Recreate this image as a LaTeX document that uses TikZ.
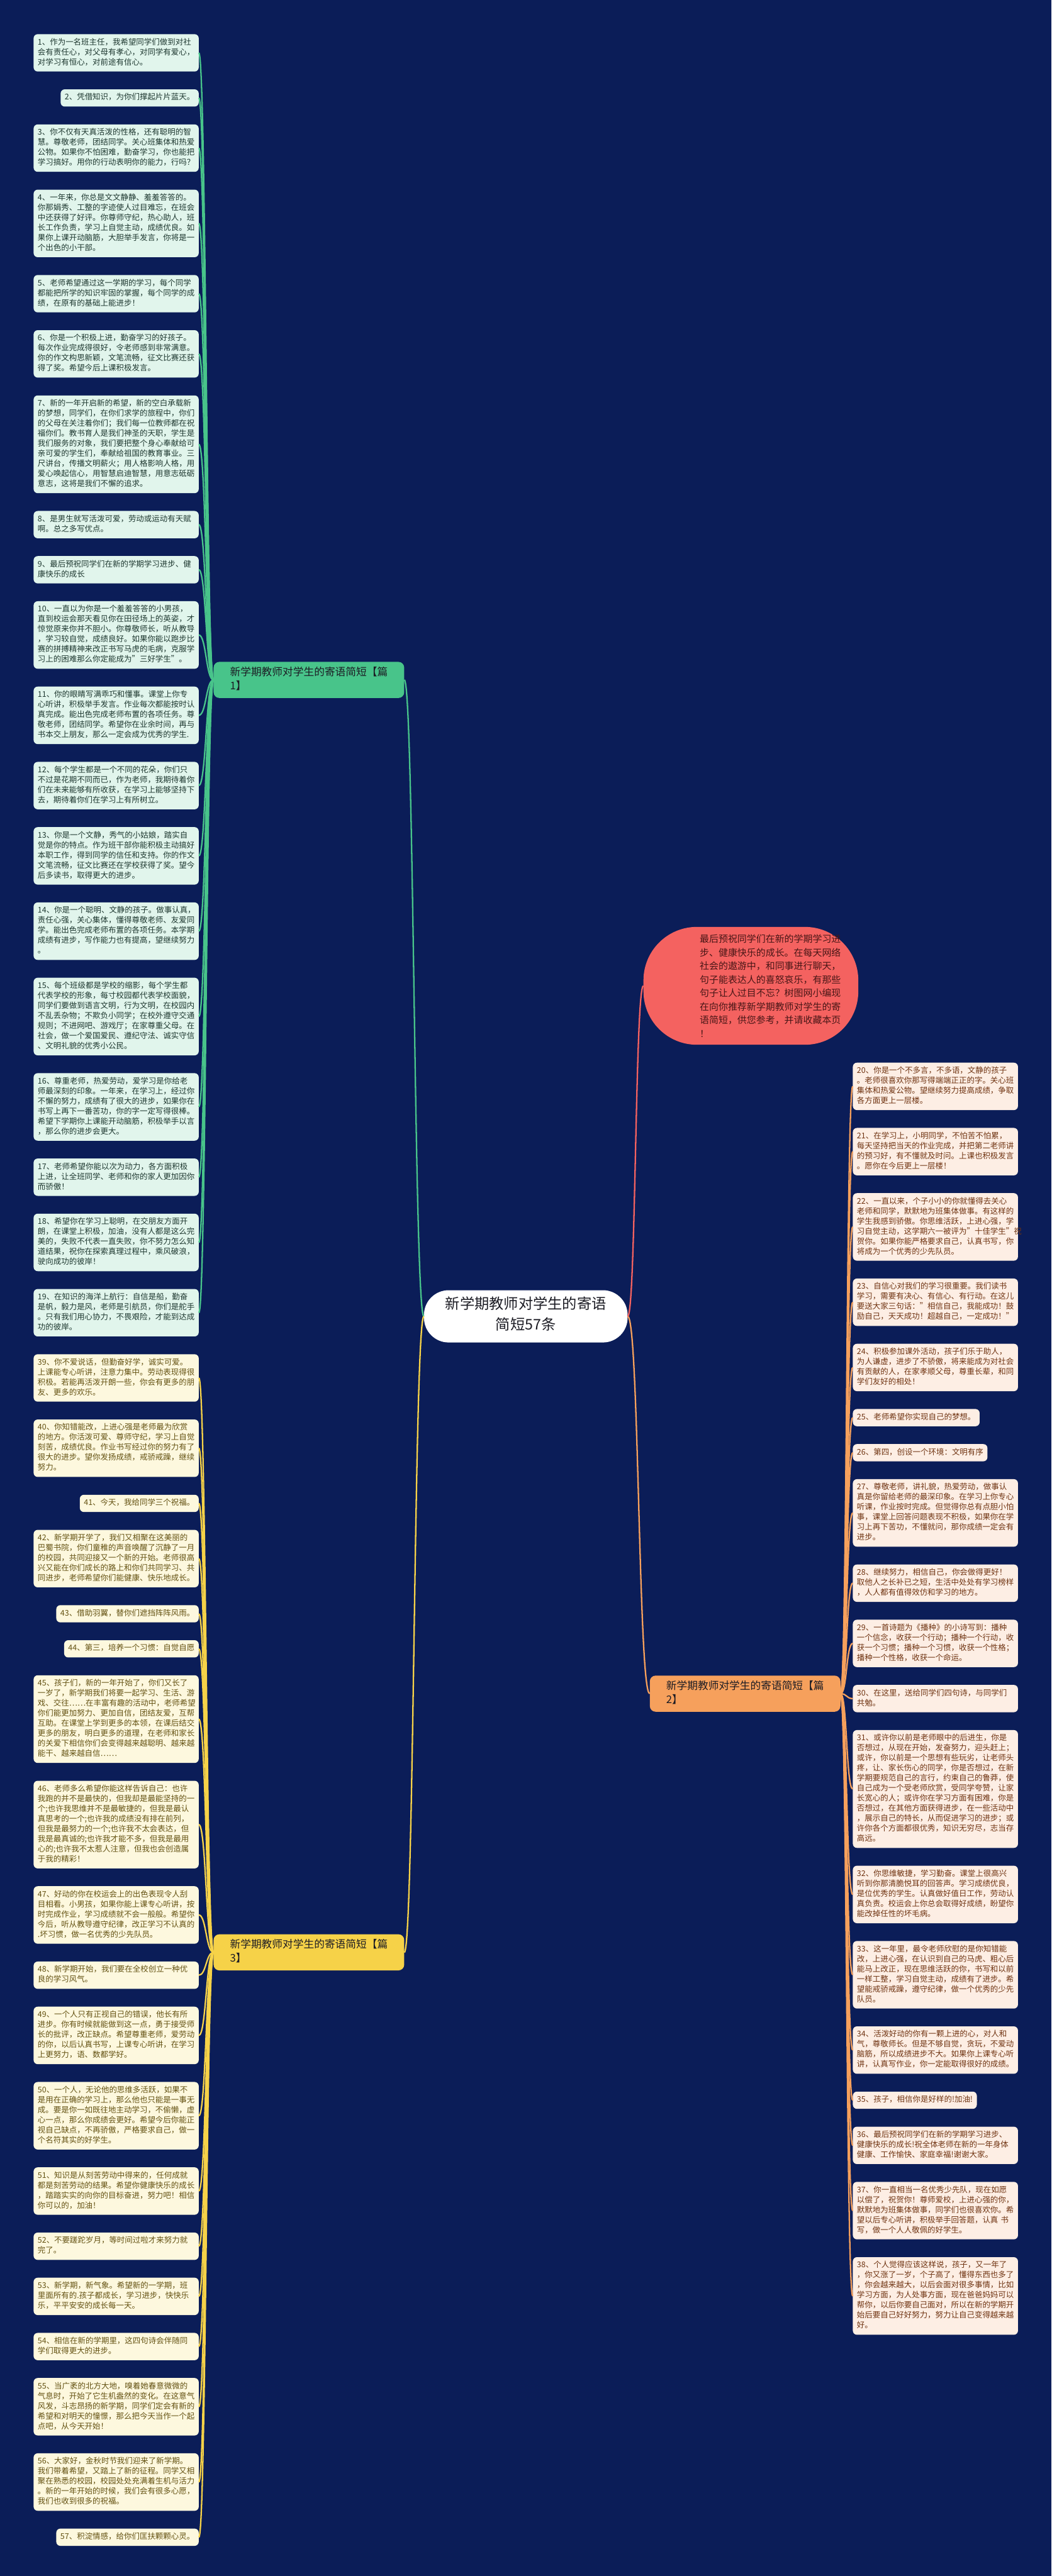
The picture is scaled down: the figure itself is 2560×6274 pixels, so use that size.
\documentclass[tikz,border=0pt]{standalone}
\usepackage{fontspec}
\setmainfont{Noto Sans CJK SC}
\usetikzlibrary{positioning}

\definecolor{navybg}{RGB}{11,29,88}
\definecolor{greenline}{RGB}{72,196,138}
\definecolor{greenfill}{RGB}{225,245,236}
\definecolor{greentext}{RGB}{30,56,48}
\definecolor{orangeline}{RGB}{246,160,92}
\definecolor{orangefill}{RGB}{253,238,228}
\definecolor{orangetext}{RGB}{112,52,18}
\definecolor{yellowline}{RGB}{246,210,72}
\definecolor{yellowfill}{RGB}{253,248,222}
\definecolor{yellowtext}{RGB}{100,82,18}
\definecolor{pinkfill}{RGB}{244,98,96}
\definecolor{pinktext}{RGB}{72,22,22}
\definecolor{roottext}{RGB}{28,28,36}

\tikzset{
leaf/.style={rounded corners=10pt, inner xsep=10pt, inner ysep=8.75pt, align=left,
  font=\fontsize{19.1}{24.5}\selectfont,
  execute at begin node=\strut, execute at end node=\strut}, % every line is 24.5 high
gbox/.style={leaf, fill=greenfill, text=greentext},
obox/.style={leaf, fill=orangefill, text=orangetext},
ybox/.style={leaf, fill=yellowfill, text=yellowtext},
wide/.style={text width=382pt}, % the long messages
lstack/.style={below=43pt of #1.south east, anchor=north east}, % left column, right aligned
rstack/.style={below=43pt of #1.south west, anchor=north west}, % right column, left aligned
branch/.style={rounded corners=14pt, inner xsep=40pt, inner ysep=10pt, align=left,
  text width=384pt, text=roottext, font=\fontsize{25.6}{34}\selectfont,
  execute at begin node=\strut, execute at end node=\strut},
root/.style={fill=white, rounded corners=60pt, inner xsep=52pt, inner ysep=16pt,
  align=center, text=roottext, font=\fontsize{35.6}{50}\selectfont,
  execute at begin node=\strut, execute at end node=\strut},
gwire/.style={draw=greenline, line width=3.5pt},
owire/.style={draw=orangeline, line width=3.5pt},
ywire/.style={draw=yellowline, line width=3.5pt},
pwire/.style={draw=pinkfill, line width=3.5pt},
}

\begin{document}
\begin{tikzpicture}[x=1pt, y=1pt]
\fill[navybg] (0,0) rectangle (2560,-6274);

% root, intro and the three branches
\node[root] (root) at (1280,-3206) {新学期教师对学生的寄语\\简短57条};
\node[fill=pinkfill, rounded corners=130pt, minimum width=523pt, minimum height=287pt] (intro) at (1828,-2401) {};
\node[right=137pt of intro.west, anchor=west, inner sep=0pt, text width=348pt, align=left,
  text=pinktext, font=\fontsize{22.9}{32.9}\selectfont] (introtext)
  {最后预祝同学们在新的学期学习进\\步、健康快乐的成长。在每天网络\\社会的遨游中，和同事进行聊天，\\句子能表达人的喜怒哀乐，有那些\\句子让人过目不忘？树图网小编现\\在向你推荐新学期教师对学生的寄\\语简短，供您参考，并请收藏本页\\！};
\node[branch, fill=greenline] (b1) at (752,-1656) {新学期教师对学生的寄语简短【篇\\1】};
\node[branch, fill=orangeline] (b2) at (1814,-4125) {新学期教师对学生的寄语简短【篇\\2】};
\node[branch, fill=yellowline] (b3) at (752,-4755) {新学期教师对学生的寄语简短【篇\\3】};

% left column: 篇1
\node[gbox, wide, anchor=north east] (g1) at (484,-83) {1、作为一名班主任，我希望同学们做到对社\\会有责任心，对父母有孝心，对同学有爱心，\\对学习有恒心，对前途有信心。};
\node[gbox, lstack=g1] (g2) {2、凭借知识，为你们撑起片片蓝天。};
\node[gbox, wide, lstack=g2] (g3) {3、你不仅有天真活泼的性格，还有聪明的智\\慧。尊敬老师，团结同学。关心班集体和热爱\\公物。如果你不怕困难，勤奋学习，你也能把\\学习搞好。用你的行动表明你的能力，行吗？};
\node[gbox, wide, lstack=g3] (g4) {4、一年来，你总是文文静静、羞羞答答的。\\你那娟秀、工整的字迹使人过目难忘，在班会\\中还获得了好评。你尊师守纪，热心助人，班\\长工作负责，学习上自觉主动，成绩优良。如\\果你上课开动脑筋，大胆举手发言，你将是一\\个出色的小干部。};
\node[gbox, wide, lstack=g4] (g5) {5、老师希望通过这一学期的学习，每个同学\\都能把所学的知识牢固的掌握，每个同学的成\\绩，在原有的基础上能进步！};
\node[gbox, wide, lstack=g5] (g6) {6、你是一个积极上进，勤奋学习的好孩子。\\每次作业完成得很好，令老师感到非常满意。\\你的作文构思新颖，文笔流畅，征文比赛还获\\得了奖。希望今后上课积极发言。};
\node[gbox, wide, lstack=g6] (g7) {7、新的一年开启新的希望，新的空白承载新\\的梦想，同学们，在你们求学的旅程中，你们\\的父母在关注着你们；我们每一位教师都在祝\\福你们。教书育人是我们神圣的天职，学生是\\我们服务的对象，我们要把整个身心奉献给可\\亲可爱的学生们，奉献给祖国的教育事业。三\\尺讲台，传播文明薪火；用人格影响人格，用\\爱心唤起信心，用智慧启迪智慧，用意志砥砺\\意志，这将是我们不懈的追求。};
\node[gbox, wide, lstack=g7] (g8) {8、是男生就写活泼可爱，劳动或运动有天赋\\啊。总之多写优点。};
\node[gbox, wide, lstack=g8] (g9) {9、最后预祝同学们在新的学期学习进步、健\\康快乐的成长};
\node[gbox, wide, lstack=g9] (g10) {10、一直以为你是一个羞羞答答的小男孩，\\直到校运会那天看见你在田径场上的英姿，才\\惊觉原来你并不胆小。你尊敬师长，听从教导\\，学习较自觉，成绩良好。如果你能以跑步比\\赛的拼搏精神来改正书写马虎的毛病，克服学\\习上的困难那么你定能成为"三好学生"。};
\node[gbox, wide, lstack=g10] (g11) {11、你的眼睛写满乖巧和懂事。课堂上你专\\心听讲，积极举手发言。作业每次都能按时认\\真完成。能出色完成老师布置的各项任务。尊\\敬老师，团结同学。希望你在业余时间，再与\\书本交上朋友，那么一定会成为优秀的学生.};
\node[gbox, wide, lstack=g11] (g12) {12、每个学生都是一个不同的花朵，你们只\\不过是花期不同而已，作为老师，我期待着你\\们在未来能够有所收获，在学习上能够坚持下\\去，期待着你们在学习上有所树立。};
\node[gbox, wide, lstack=g12] (g13) {13、你是一个文静，秀气的小姑娘，踏实自\\觉是你的特点。作为班干部你能积极主动搞好\\本职工作，得到同学的信任和支持。你的作文\\文笔流畅，征文比赛还在学校获得了奖。望今\\后多读书，取得更大的进步。};
\node[gbox, wide, lstack=g13] (g14) {14、你是一个聪明、文静的孩子。做事认真，\\责任心强，关心集体，懂得尊敬老师、友爱同\\学。能出色完成老师布置的各项任务。本学期\\成绩有进步，写作能力也有提高，望继续努力\\。};
\node[gbox, wide, lstack=g14] (g15) {15、每个班级都是学校的缩影，每个学生都\\代表学校的形象，每寸校园都代表学校面貌，\\同学们要做到语言文明，行为文明，在校园内\\不乱丢杂物；不欺负小同学；在校外遵守交通\\规则；不进网吧、游戏厅；在家尊重父母。在\\社会，做一个爱国爱民、遵纪守法、诚实守信\\、文明礼貌的优秀小公民。};
\node[gbox, wide, lstack=g15] (g16) {16、尊重老师，热爱劳动，爱学习是你给老\\师最深刻的印象。一年来，在学习上，经过你\\不懈的努力，成绩有了很大的进步，如果你在\\书写上再下一番苦功，你的字一定写得很棒。\\希望下学期你上课能开动脑筋，积极举手以言\\，那么你的进步会更大。};
\node[gbox, wide, lstack=g16] (g17) {17、老师希望你能以次为动力，各方面积极\\上进，让全班同学、老师和你的家人更加因你\\而骄傲！};
\node[gbox, wide, lstack=g17] (g18) {18、希望你在学习上聪明，在交朋友方面开\\朗，在课堂上积极，加油，没有人都是这么完\\美的，失败不代表一直失败，你不努力怎么知\\道结果，祝你在探索真理过程中，乘风破浪，\\驶向成功的彼岸！};
\node[gbox, wide, lstack=g18] (g19) {19、在知识的海洋上航行：自信是船，勤奋\\是帆，毅力是风，老师是引航员，你们是舵手\\。只有我们用心协力，不畏艰险，才能到达成\\功的彼岸。};

% left column: 篇3
\node[ybox, wide, lstack=g19] (y39) {39、你不爱说话，但勤奋好学，诚实可爱。\\上课能专心听讲，注意力集中。劳动表现得很\\积极。若能再活泼开朗一些，你会有更多的朋\\友、更多的欢乐。};
\node[ybox, wide, lstack=y39] (y40) {40、你知错能改，上进心强是老师最为欣赏\\的地方。你活泼可爱、尊师守纪，学习上自觉\\刻苦，成绩优良。作业书写经过你的努力有了\\很大的进步。望你发扬成绩，戒骄戒躁，继续\\努力。};
\node[ybox, lstack=y40] (y41) {41、今天，我给同学三个祝福。};
\node[ybox, wide, lstack=y41] (y42) {42、新学期开学了，我们又相聚在这美丽的\\巴蜀书院，你们童稚的声音唤醒了沉静了一月\\的校园，共同迎接又一个新的开始。老师很高\\兴又能在你们成长的路上和你们共同学习、共\\同进步，老师希望你们能健康、快乐地成长。};
\node[ybox, lstack=y42] (y43) {43、借助羽翼，替你们遮挡阵阵风雨。};
\node[ybox, lstack=y43] (y44) {44、第三，培养一个习惯：自觉自愿};
\node[ybox, wide, lstack=y44] (y45) {45、孩子们，新的一年开始了，你们又长了\\一岁了，新学期我们将要一起学习、生活、游\\戏、交往……在丰富有趣的活动中，老师希望\\你们能更加努力、更加自信，团结友爱，互帮\\互助。在课堂上学到更多的本领，在课后结交\\更多的朋友，明白更多的道理，在老师和家长\\的关爱下相信你们会变得越来越聪明、越来越\\能干、越来越自信……};
\node[ybox, wide, lstack=y45] (y46) {46、老师多么希望你能这样告诉自己：也许\\我跑的并不是最快的，但我却是最能坚持的一\\个;也许我思维并不是最敏捷的，但我是最认\\真思考的一个;也许我的成绩没有排在前列，\\但我是最努力的一个;也许我不太会表达，但\\我是最真诚的;也许我才能不多，但我是最用\\心的;也许我不太惹人注意，但我也会创造属\\于我的精彩！};
\node[ybox, wide, lstack=y46] (y47) {47、好动的你在校运会上的出色表现令人刮\\目相看。小男孩，如果你能上课专心听讲，按\\时完成作业，学习成绩就不会一般般。希望你\\今后，听从教导遵守纪律，改正学习不认真的\\.坏习惯，做一名优秀的少先队员。};
\node[ybox, wide, lstack=y47] (y48) {48、新学期开始，我们要在全校创立一种优\\良的学习风气。};
\node[ybox, wide, lstack=y48] (y49) {49、一个人只有正视自己的错误，他长有所\\进步。你有时候就能做到这一点，勇于接受师\\长的批评，改正缺点。希望尊重老师，爱劳动\\的你，以后认真书写，上课专心听讲，在学习\\上更努力，语、数都学好。};
\node[ybox, wide, lstack=y49] (y50) {50、一个人，无论他的思维多活跃，如果不\\是用在正确的学习上，那么他也只能是一事无\\成。要是你一如既往地主动学习，不偷懒，虚\\心一点，那么你成绩会更好。希望今后你能正\\视自己缺点，不再骄傲，严格要求自己，做一\\个名符其实的好学生。};
\node[ybox, wide, lstack=y50] (y51) {51、知识是从刻苦劳动中得来的，任何成就\\都是刻苦劳动的结果。希望你健康快乐的成长\\，踏踏实实的向你的目标奋进，努力吧！相信\\你可以的，加油！};
\node[ybox, wide, lstack=y51] (y52) {52、不要蹉跎岁月，等时间过啦才来努力就\\完了。};
\node[ybox, wide, lstack=y52] (y53) {53、新学期，新气象。希望新的一学期，班\\里面所有的.孩子都成长，学习进步，快快乐\\乐，平平安安的成长每一天。};
\node[ybox, wide, lstack=y53] (y54) {54、相信在新的学期里，这四句诗会伴随同\\学们取得更大的进步。};
\node[ybox, wide, lstack=y54] (y55) {55、当广袤的北方大地，嗅着她春意微微的\\气息时，开始了它生机盎然的变化。在这意气\\风发，斗志昂扬的新学期，同学们定会有新的\\希望和对明天的憧憬，那么把今天当作一个起\\点吧，从今天开始！};
\node[ybox, wide, lstack=y55] (y56) {56、大家好，金秋时节我们迎来了新学期。\\我们带着希望，又踏上了新的征程。同学又相\\聚在熟悉的校园，校园处处充满着生机与活力\\。新的一年开始的时候，我们会有很多心愿，\\我们也收到很多的祝福。};
\node[ybox, lstack=y56] (y57) {57、积淀情感，给你们匡扶颗颗心灵。};

% right column: 篇2
\node[obox, wide, anchor=north west] (o20) at (2076,-2588) {20、你是一个不多言，不多语，文静的孩子\\。老师很喜欢你那写得端端正正的字。关心班\\集体和热爱公物。望继续努力提高成绩，争取\\各方面更上一层楼。};
\node[obox, wide, rstack=o20] (o21) {21、在学习上，小明同学，不怕苦不怕累，\\每天坚持把当天的作业完成，并把第二老师讲\\的预习好，有不懂就及时问。上课也积极发言\\。愿你在今后更上一层楼！};
\node[obox, wide, rstack=o21] (o22) {22、一直以来，个子小小的你就懂得去关心\\老师和同学，默默地为班集体做事。有这样的\\学生我感到骄傲。你思维活跃，上进心强，学\\习自觉主动，这学期六一被评为"十佳学生"祝\\贺你。如果你能严格要求自己，认真书写，你\\将成为一个优秀的少先队员。};
\node[obox, wide, rstack=o22] (o23) {23、自信心对我们的学习很重要。我们读书\\学习，需要有决心、有信心、有行动。在这儿\\要送大家三句话："相信自己，我能成功！鼓\\励自己，天天成功！超越自己，一定成功！"};
\node[obox, wide, rstack=o23] (o24) {24、积极参加课外活动，孩子们乐于助人，\\为人谦虚，进步了不骄傲，将来能成为对社会\\有贡献的人，在家孝顺父母，尊重长辈，和同\\学们友好的相处！};
\node[obox, rstack=o24] (o25) {25、老师希望你实现自己的梦想。};
\node[obox, rstack=o25] (o26) {26、第四，创设一个环境：文明有序};
\node[obox, wide, rstack=o26] (o27) {27、尊敬老师，讲礼貌，热爱劳动，做事认\\真是你留给老师的最深印象。在学习上你专心\\听课，作业按时完成。但觉得你总有点胆小怕\\事，课堂上回答问题表现不积极，如果你在学\\习上再下苦功，不懂就问，那你成绩一定会有\\进步。};
\node[obox, wide, rstack=o27] (o28) {28、继续努力，相信自己，你会做得更好！\\取他人之长补已之短，生活中处处有学习榜样\\，人人都有值得效仿和学习的地方。};
\node[obox, wide, rstack=o28] (o29) {29、一首诗题为《播种》的小诗写到：播种\\一个信念，收获一个行动；播种一个行动，收\\获一个习惯；播种一个习惯，收获一个性格；\\播种一个性格，收获一个命运。};
\node[obox, wide, rstack=o29] (o30) {30、在这里，送给同学们四句诗，与同学们\\共勉。};
\node[obox, wide, rstack=o30] (o31) {31、或许你以前是老师眼中的后进生，你是\\否想过，从现在开始，发奋努力，迎头赶上；\\或许，你以前是一个思想有些玩劣，让老师头\\疼，让、家长伤心的同学，你是否想过，在新\\学期要规范自己的言行，约束自己的鲁莽，使\\自己成为一个受老师欣赏，受同学夸赞，让家\\长宽心的人；或许你在学习方面有困难，你是\\否想过，在其他方面获得进步，在一些活动中\\，展示自己的特长，从而促进学习的进步；或\\许你各个方面都很优秀，知识无穷尽，志当存\\高远。};
\node[obox, wide, rstack=o31] (o32) {32、你思维敏捷，学习勤奋。课堂上很高兴\\听到你那清脆悦耳的回答声。学习成绩优良，\\是位优秀的学生。认真做好值日工作，劳动认\\真负责。校运会上你总会取得好成绩，盼望你\\能改掉任性的坏毛病。};
\node[obox, wide, rstack=o32] (o33) {33、这一年里，最令老师欣慰的是你知错能\\改，上进心强，在认识到自己的马虎、粗心后\\能马上改正，现在思维活跃的你，书写和以前\\一样工整，学习自觉主动，成绩有了进步。希\\望能戒骄戒躁，遵守纪律，做一个优秀的少先\\队员。};
\node[obox, wide, rstack=o33] (o34) {34、活泼好动的你有一颗上进的心，对人和\\气，尊敬师长。但是不够自觉，贪玩，不爱动\\脑筋，所以成绩进步不大。如果你上课专心听\\讲，认真写作业，你一定能取得很好的成绩。};
\node[obox, rstack=o34] (o35) {35、孩子，相信你是好样的!加油!};
\node[obox, wide, rstack=o35] (o36) {36、最后预祝同学们在新的学期学习进步、\\健康快乐的成长!祝全体老师在新的一年身体\\健康、工作愉快、家庭幸福!谢谢大家。};
\node[obox, wide, rstack=o36] (o37) {37、你一直相当一名优秀少先队，现在如愿\\以偿了，祝贺你！尊师爱校，上进心强的你，\\默默地为班集体做事，同学们也很喜欢你。希\\望以后专心听讲，积极举手回答题，认真 书\\写，做一个人人敬佩的好学生。};
\node[obox, wide, rstack=o37] (o38) {38、个人觉得应该这样说，孩子，又一年了\\，你又涨了一岁，个子高了，懂得东西也多了\\，你会越来越大，以后会面对很多事情，比如\\学习方面，为人处事方面，现在爸爸妈妈可以\\帮你，以后你要自己面对，所以在新的学期开\\始后要自己好好努力，努力让自己变得越来越\\好。};

% connectors
\draw[gwire] (root.west) .. controls +(-24,0) and +(24,0) .. (b1.east);
\draw[ywire] (root.west) .. controls +(-24,0) and +(24,0) .. (b3.east);
\draw[owire] (root.east) .. controls +(28,0) and +(-28,0) .. (b2.west);
\draw[pwire] (root.east) .. controls +(20,0) and +(-20,0) .. (intro.west);
\foreach \i in {1,...,19}
  \draw[gwire] (b1.west) .. controls +(-18,0) and +(18,0) .. (g\i.east);
\foreach \i in {39,...,57}
  \draw[ywire] (b3.west) .. controls +(-18,0) and +(18,0) .. (y\i.east);
\foreach \i in {20,...,38}
  \draw[owire] (b2.east) .. controls +(16,0) and +(-16,0) .. (o\i.west);
\end{tikzpicture}
\end{document}
